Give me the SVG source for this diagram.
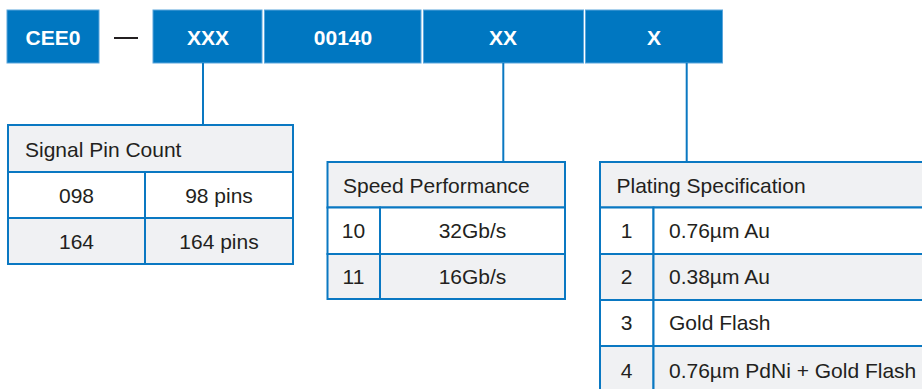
<svg xmlns="http://www.w3.org/2000/svg" width="922" height="389" viewBox="0 0 922 389">
<style>
.box{fill:#0077c1;stroke:#5aa6dc;stroke-width:1}
.bt{font-family:"Liberation Sans",Arial,sans-serif;font-size:21px;font-weight:bold;fill:#ffffff;text-anchor:middle}
.t{font-family:"Liberation Sans",Arial,sans-serif;font-size:21px;fill:#231f20}
.c{text-anchor:middle}
.cell{stroke:#0a78c2;stroke-width:2}
.g{fill:#f0f1f3}
.w{fill:#ffffff}
.conn{stroke:#0a78c2;stroke-width:2;fill:none}
</style>
<rect width="922" height="389" fill="#ffffff"/>
<g id="part-cee0"><rect class="box" x="7" y="10" width="92" height="53"/><text class="bt" x="53" y="45">CEE0</text></g>
<g id="dash"><line x1="114" y1="38" x2="138" y2="38" stroke="#231f20" stroke-width="2"/></g>
<g id="part-xxx"><rect class="box" x="153" y="10" width="109" height="53"/><text class="bt" x="208" y="45">XXX</text></g>
<g id="part-00140"><rect class="box" x="264.5" y="10" width="156.5" height="53"/><text class="bt" x="343" y="45">00140</text></g>
<g id="part-xx"><rect class="box" x="423.5" y="10" width="160" height="53"/><text class="bt" x="503" y="45">XX</text></g>
<g id="part-x"><rect class="box" x="585.5" y="10" width="137" height="53"/><text class="bt" x="654" y="45">X</text></g>
<g id="connectors">
<line class="conn" x1="203" y1="63" x2="203" y2="125"/>
<line class="conn" x1="503.3" y1="63" x2="503.3" y2="162"/>
<line class="conn" x1="686.7" y1="63" x2="686.7" y2="162"/>
</g>
<g id="table-pin-count">
<rect class="cell g" x="8" y="125" width="285" height="47"/>
<rect class="cell w" x="8" y="172" width="137" height="46"/>
<rect class="cell w" x="145" y="172" width="148" height="46"/>
<rect class="cell g" x="8" y="218" width="137" height="46"/>
<rect class="cell g" x="145" y="218" width="148" height="46"/>
<text class="t" x="25" y="157">Signal Pin Count</text>
<text class="t c" x="76.5" y="202.5">098</text>
<text class="t c" x="219" y="202.5">98 pins</text>
<text class="t c" x="76.5" y="248.5">164</text>
<text class="t c" x="219" y="248.5">164 pins</text>
</g>
<g id="table-speed">
<rect class="cell g" x="327.5" y="162" width="237.5" height="45.5"/>
<rect class="cell w" x="327.5" y="207.5" width="52.5" height="46.5"/>
<rect class="cell w" x="380" y="207.5" width="185" height="46.5"/>
<rect class="cell g" x="327.5" y="254" width="52.5" height="45"/>
<rect class="cell g" x="380" y="254" width="185" height="45"/>
<text class="t" x="343" y="193">Speed Performance</text>
<text class="t c" x="353.5" y="238">10</text>
<text class="t c" x="472.5" y="238">32Gb/s</text>
<text class="t c" x="353.5" y="284">11</text>
<text class="t c" x="472.5" y="284">16Gb/s</text>
</g>
<g id="table-plating">
<rect class="cell g" x="600" y="162" width="330" height="45.5"/>
<rect class="cell w" x="600" y="207.5" width="53.5" height="46.5"/>
<rect class="cell w" x="653.5" y="207.5" width="276.5" height="46.5"/>
<rect class="cell g" x="600" y="254" width="53.5" height="46"/>
<rect class="cell g" x="653.5" y="254" width="276.5" height="46"/>
<rect class="cell w" x="600" y="300" width="53.5" height="46"/>
<rect class="cell w" x="653.5" y="300" width="276.5" height="46"/>
<rect class="cell g" x="600" y="346" width="53.5" height="50"/>
<rect class="cell g" x="653.5" y="346" width="276.5" height="50"/>
<text class="t" x="616.5" y="193">Plating Specification</text>
<text class="t c" x="626.7" y="237.5">1</text>
<text class="t" x="669" y="237.5">0.76µm Au</text>
<text class="t c" x="626.7" y="283.5">2</text>
<text class="t" x="669" y="283.5">0.38µm Au</text>
<text class="t c" x="626.7" y="330">3</text>
<text class="t" x="669" y="330">Gold Flash</text>
<text class="t c" x="626.7" y="377.5">4</text>
<text class="t" x="669" y="377.5">0.76µm PdNi + Gold Flash</text>
</g>
</svg>
